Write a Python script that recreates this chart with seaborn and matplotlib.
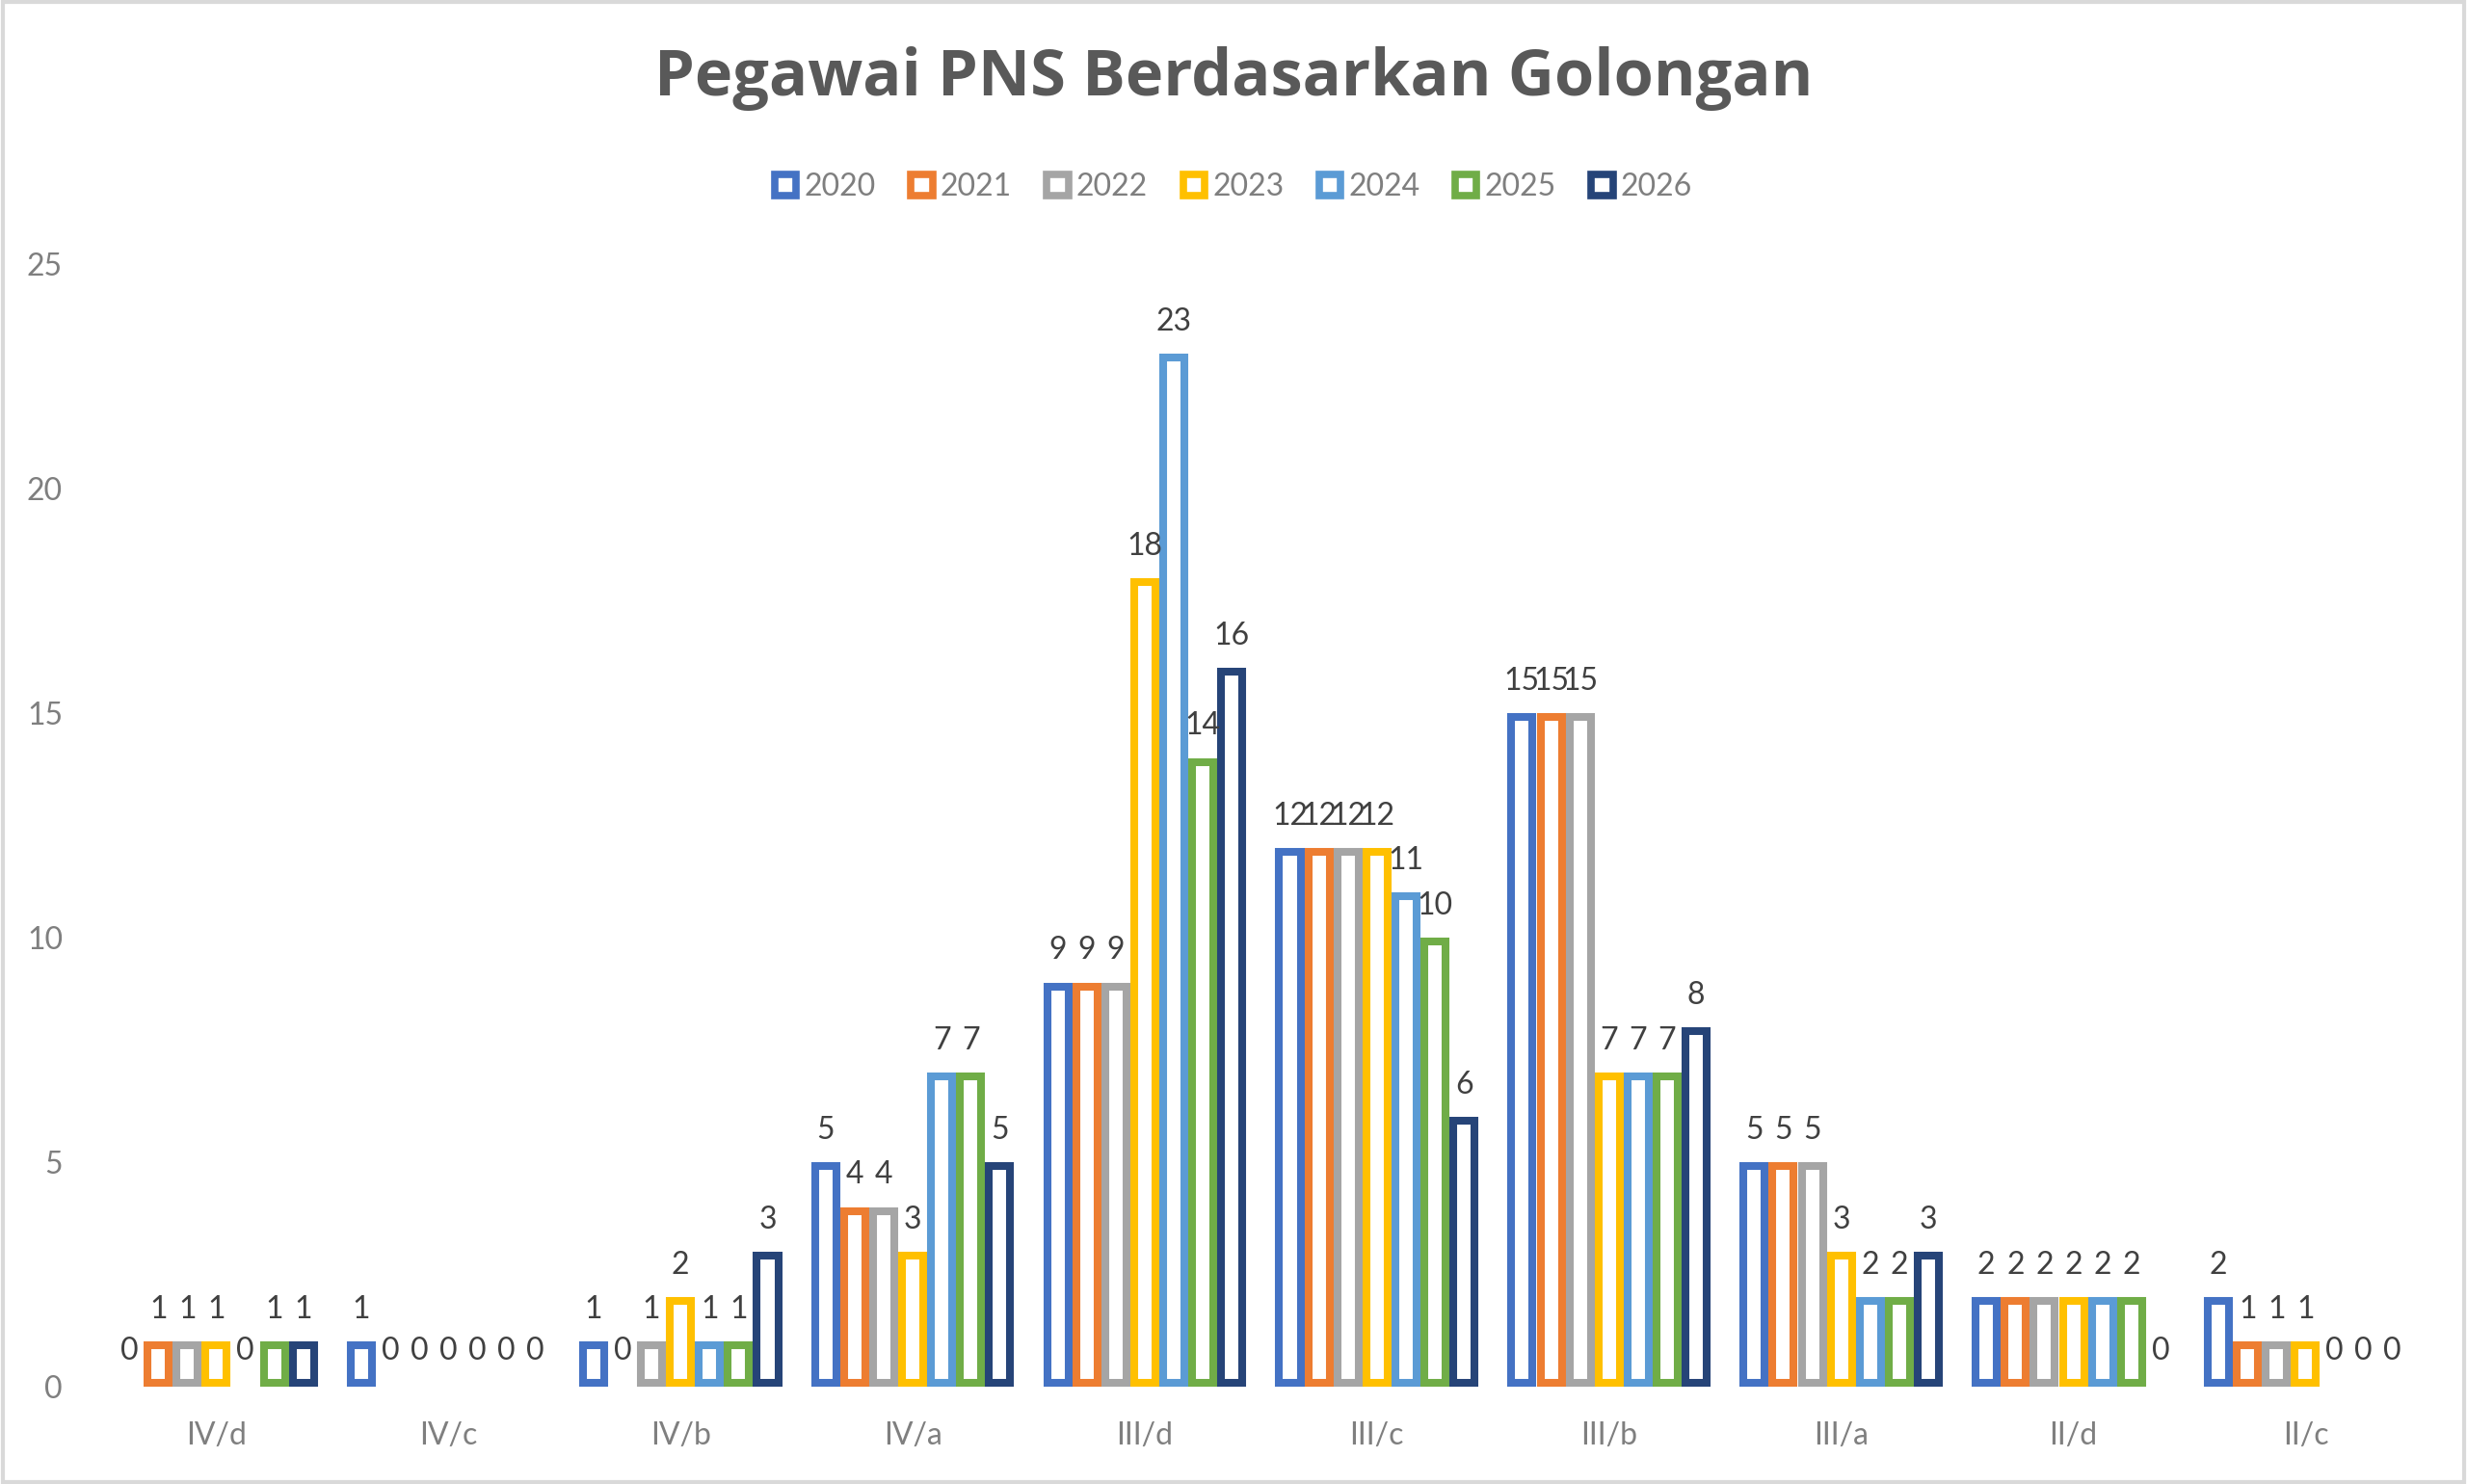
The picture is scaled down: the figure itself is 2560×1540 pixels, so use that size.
import numpy as np
import pandas as pd
import matplotlib
matplotlib.use("Agg")
import matplotlib.pyplot as plt
from matplotlib.patches import Rectangle
import seaborn as sns

golongan = ["IV/d", "IV/c", "IV/b", "IV/a", "III/d", "III/c", "III/b", "III/a", "II/d", "II/c"]
years = ["2020", "2021", "2022", "2023", "2024", "2025", "2026"]

v2020 = [0, 1, 1, 5, 9, 12, 15, 5, 2, 2]
v2021 = [1, 0, 0, 4, 9, 12, 15, 5, 2, 1]
v2022 = [1, 0, 1, 4, 9, 12, 15, 5, 2, 1]
v2023 = [1, 0, 2, 3, 18, 12, 7, 3, 2, 1]
v2024 = [0, 0, 1, 7, 23, 11, 7, 2, 2, 0]
v2025 = [1, 0, 1, 7, 14, 10, 7, 2, 2, 0]
v2026 = [1, 0, 3, 5, 16, 6, 8, 3, 0, 0]

colors = ["#4472C4", "#ED7D31", "#A5A5A5", "#FFC000", "#5B9BD5", "#70AD47", "#264478"]

series = [v2020, v2021, v2022, v2023, v2024, v2025, v2026]
rows = []
for y, vals in zip(years, series):
    for g, v in zip(golongan, vals):
        rows.append({"golongan": g, "tahun": y, "jumlah": v})
df = pd.DataFrame(rows)

sns.set_theme(style="white")
plt.rcParams["font.family"] = ["Lato", "DejaVu Sans"]

fig = plt.figure(figsize=(25.6, 15.4), dpi=100)
ax = fig.add_axes([0.0406, 0.0656, 0.941, 0.7564])

lw = 5.8  # points, ~8 px
sns.barplot(data=df, x="golongan", y="jumlah", hue="tahun", order=golongan,
            hue_order=years, palette=colors, fill=False, linewidth=lw,
            width=0.875, gap=0, errorbar=None, legend=False, ax=ax)

ax.set_ylim(0, 25)
ax.set_xlim(-0.5, 9.5)

# draw the outline inside each bar (Excel style): shrink by half the stroke
half_px = lw / 72 * fig.dpi / 2
bbox = ax.get_window_extent()
dx = half_px * (ax.get_xlim()[1] - ax.get_xlim()[0]) / bbox.width
dy = half_px * (ax.get_ylim()[1] - ax.get_ylim()[0]) / bbox.height

for cont in ax.containers:
    for p in cont.patches:
        h = p.get_height()
        if h == 0:
            p.set_edgecolor("none")
        else:
            p.set_x(p.get_x() + dx)
            p.set_width(p.get_width() - 2 * dx)
            p.set_y(p.get_y() + dy)
            p.set_height(h - 2 * dy)
        p.set_joinstyle("miter")
    ax.bar_label(cont, labels=[f"{int(round(v))}" for v in cont.datavalues],
                 padding=16, fontsize=23, color="#404040")

ax.set_yticks(range(0, 26, 5))
ax.set_xlabel("")
ax.set_ylabel("")
ax.tick_params(axis="both", length=0, labelsize=23, labelcolor="#7F7F7F")
ax.tick_params(axis="x", pad=26)
ax.tick_params(axis="y", pad=28)
for s in ax.spines.values():
    s.set_visible(False)
ax.grid(False)

# legend with hollow square markers
handles = [Rectangle((0, 0), 1, 1, facecolor="white", edgecolor=c, linewidth=5.5) for c in colors]
leg = fig.legend(handles, years, loc="center", bbox_to_anchor=(0.5, 0.874), ncol=7,
                 frameon=False, fontsize=23, handlelength=0.7, handleheight=0.7,
                 handletextpad=0.25, columnspacing=1.15)
for t in leg.get_texts():
    t.set_color("#7F7F7F")

fig.text(0.5, 0.947, "Pegawai PNS Berdasarkan Golongan", ha="center", va="center",
         fontsize=48, fontweight="bold", color="#595959", family=["Open Sans", "DejaVu Sans"])

fig.patches.append(Rectangle((0.001, 0.001), 0.998, 0.998, transform=fig.transFigure,
                             fill=False, edgecolor="#D9D9D9", linewidth=3))

fig.savefig("out.png", dpi=100, facecolor="white")
